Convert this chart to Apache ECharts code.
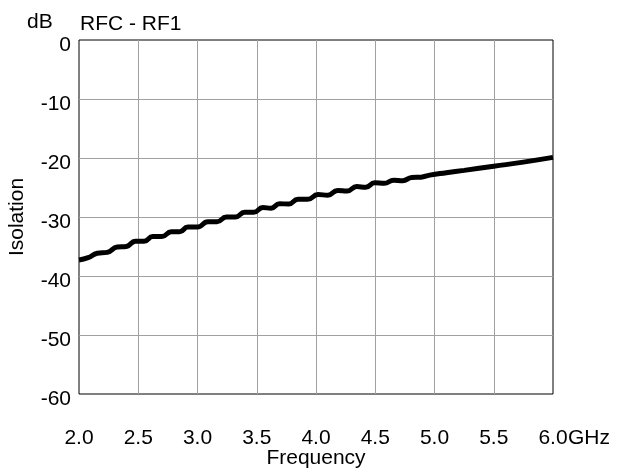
<!DOCTYPE html>
<html>
<head>
<meta charset="utf-8">
<script src="https://cdn.jsdelivr.net/npm/echarts@6/dist/echarts.min.js"></script>
<style>
  html, body { margin: 0; padding: 0; background: #fff; }
  #chart { width: 618px; height: 470px; }
</style>
</head>
<body>
<div id="chart"></div>
<script>
// Isolation RFC - RF1 (GHz, dB)
const freqGHz = [
    2.000, 2.077, 2.154, 2.238, 2.323, 2.400, 2.477, 2.550, 2.623, 2.700,
    2.779, 2.850, 2.919, 3.000, 3.088, 3.165, 3.243, 3.320, 3.398, 3.475,
    3.552, 3.620, 3.693, 3.770, 3.848, 3.930, 4.017, 4.100, 4.183, 4.263,
    4.344, 4.420, 4.496, 4.576, 4.656, 4.732, 4.808, 4.885, 4.960, 5.100,
    5.250, 5.500, 5.750, 6.000
];
const isolationDb = [
    -37.3, -36.9, -36.15, -36.0, -35.1, -35.0, -34.1, -34.1, -33.3, -33.3,
    -32.5, -32.5, -31.7, -31.7, -30.8, -30.8, -30.0, -30.0, -29.2, -29.2,
    -28.4, -28.5, -27.75, -27.8, -27.0, -27.0, -26.2, -26.3, -25.5, -25.6,
    -24.85, -24.95, -24.2, -24.3, -23.75, -23.85, -23.3, -23.25, -22.9, -22.5,
    -22.1, -21.4, -20.7, -19.9
];

const xMin = 2.0, xMax = 6.0, xStep = 0.5;
const yMin = -60, yMax = 0, yStep = 10;
const xUnit = 'GHz';

const font = 'Liberation Sans, Arial, sans-serif';
const fontSize = 21;

const chart = echarts.init(document.getElementById('chart'), null, { renderer: 'canvas' });

chart.setOption({
    animation: false,
    backgroundColor: '#fff',
    textStyle: { fontFamily: font, color: '#000' },
    title: [
        { text: 'dB', left: 27, top: 12, padding: 0,
          textStyle: { fontFamily: font, fontSize: fontSize, fontWeight: 'normal', color: '#000' } },
        { text: 'RFC - RF1', left: 80, top: 14, padding: 0,
          textStyle: { fontFamily: font, fontSize: fontSize, fontWeight: 'normal', color: '#000' } }
    ],
    grid: {
        left: 79, right: 65, top: 40, bottom: 76,
        outerBoundsMode: 'none',
        show: true, borderColor: '#000', borderWidth: 1, backgroundColor: '#fff'
    },
    xAxis: {
        type: 'value',
        min: xMin, max: xMax, interval: xStep,
        name: 'Frequency',
        nameLocation: 'middle',
        nameGap: 54,
        nameMoveOverlap: false,
        nameTextStyle: { fontFamily: font, fontSize: fontSize, color: '#000' },
        axisLine: { show: false },
        axisTick: { show: false },
        axisLabel: {
            margin: 34,
            hideOverlap: false,
            fontFamily: font, fontSize: fontSize, color: '#000',
            showMinLabel: true, showMaxLabel: true,
            formatter: (v) => v.toFixed(1)
        },
        splitLine: { show: true, showMinLine: false, showMaxLine: false,
                     lineStyle: { color: '#a0a0a0', width: 1 } }
    },
    yAxis: {
        type: 'value',
        min: yMin, max: yMax, interval: yStep,
        name: 'Isolation',
        nameLocation: 'middle',
        nameGap: 51,
        nameMoveOverlap: false,
        nameTextStyle: { fontFamily: font, fontSize: fontSize, color: '#000' },
        axisLine: { show: false },
        axisTick: { show: false },
        axisLabel: {
            margin: 8,
            hideOverlap: false,
            fontFamily: font, fontSize: fontSize, color: '#000',
            verticalAlign: 'top',
            lineHeight: 10
        },
        splitLine: { show: true, showMinLine: false, showMaxLine: false,
                     lineStyle: { color: '#a0a0a0', width: 1 } }
    },
    series: [{
        type: 'line',
        data: freqGHz.map((f, i) => [f, isolationDb[i]]),
        smooth: 0.5,
        showSymbol: false,
        lineStyle: { color: '#000', width: 5 },
        z: 5
    }]
});

// unit written right after the last tick label, as in the reference
const lastTick = chart.convertToPixel({ xAxisIndex: 0 }, xMax);
const rowY = chart.convertToPixel({ yAxisIndex: 0 }, yMin);
chart.setOption({
    graphic: [{
        type: 'text',
        x: lastTick + 15,
        y: rowY + 34,
        style: {
            text: xUnit,
            font: fontSize + 'px ' + font,
            fill: '#000',
            textAlign: 'left',
            textVerticalAlign: 'top'
        }
    }]
});
</script>
</body>
</html>
